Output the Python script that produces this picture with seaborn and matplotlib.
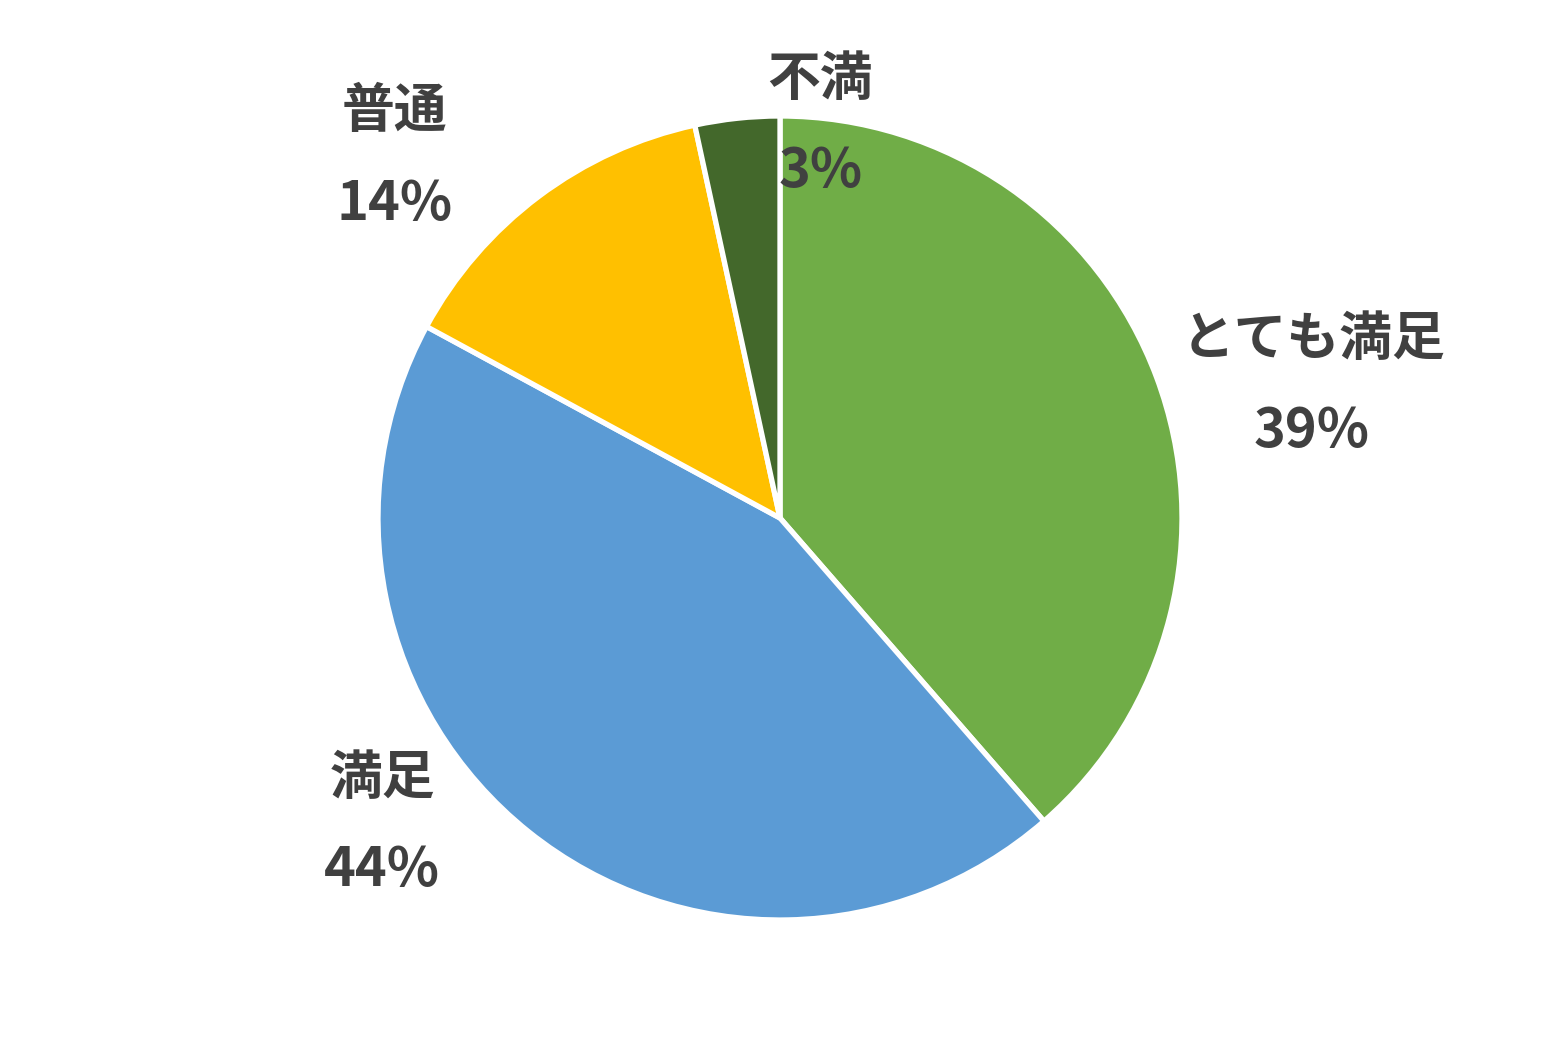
import matplotlib
matplotlib.use("Agg")
import matplotlib.pyplot as plt
import seaborn as sns

sns.set_theme(style="white")
plt.rcParams['font.family'] = ['Noto Sans CJK JP', 'DejaVu Sans']

categories = ["とても満足", "満足", "普通", "不満"]
values = [38.6, 44.3, 13.7, 3.4]
colors = ["#70AD47", "#5B9BD5", "#FFC000", "#43682B"]

# label positions (data units, pie radius = 1)
name_pos = [(1.327, 0.444), (-0.990, -0.648), (-0.960, 1.010), (0.100, 1.092)]
pct_pos = [(1.322, 0.214), (-0.990, -0.878), (-0.960, 0.781), (0.100, 0.863)]

W, H = 1559, 1039
fig = plt.figure(figsize=(W / 100, H / 100), dpi=100)
ax = fig.add_axes([0, 0, 1, 1])

ax.pie(values, colors=colors, startangle=90, counterclock=False,
       radius=1.0, wedgeprops=dict(edgecolor="white", linewidth=3.8))

cx, cy, R = 780, 518, 402
ax.set_xlim(-cx / R, (W - cx) / R)
ax.set_ylim(-(H - cy) / R, cy / R)
ax.set_aspect('auto')
ax.axis('off')

txt_color = "#404040"
total = sum(values)
for cat, v, (nx, ny), (px, py) in zip(categories, values, name_pos, pct_pos):
    ax.text(nx, ny, cat, ha="center", va="center", fontsize=38,
            fontweight="bold", color=txt_color)
    ax.text(px, py, f"{v / total * 100:.0f}%", ha="center", va="center",
            fontsize=39, fontweight="bold", color=txt_color)

fig.savefig("out.png", dpi=100, facecolor="white")
